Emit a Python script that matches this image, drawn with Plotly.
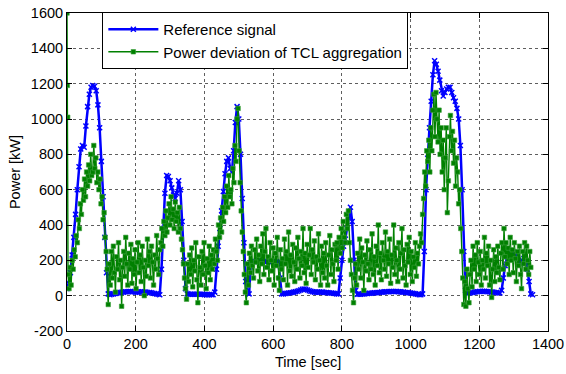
import numpy as np
import plotly.graph_objects as go

# Reference signal, sampled every 5 s from t = 0
ref_step = 5
ref_values = [
    40, 70, 130, 230, 330, 460, 600, 730, 830, 850, 840, 960, 1070, 1140, 1180, 1190, 1185, 1160, 1080, 950,
    760, 560, 330, 130, 10,
    5, 8, 10, 12, 14, 16, 18, 20, 20, 22, 22, 24, 24, 22, 22, 20, 20, 20, 22, 22, 20, 20, 18, 18, 16, 14, 12, 10, 8, 5,
    150, 380, 580, 680, 675, 650, 610, 570, 550, 580, 650, 600, 420, 200, 40, 10,
    8, 8, 8, 8, 8, 8, 8, 8, 8, 6, 6, 6, 6, 6, 5, 20,
    150, 280, 380, 480, 590, 690, 760, 780, 720, 700, 820, 980, 1070, 1000, 800, 550, 300, 80, 15,
    10, 180, 190, 192, 194, 195, 195, 195, 195, 195, 194, 193, 192, 192, 192, 192, 192, 190, 100,
    10, 10, 12, 14, 15, 16, 18, 20, 22, 25, 28, 32, 36, 38, 36, 32, 28, 25, 22, 20, 20, 20, 20, 20, 20, 18, 18,
    16, 15, 15, 14, 12, 10, 10,
    100, 200, 280, 320, 380, 450, 500, 420, 200, 30, 8,
    8, 8, 10, 10, 12, 12, 14, 14, 15, 16, 16, 18, 18, 20, 20, 22, 22, 22, 24, 24, 24, 24, 24, 22, 22, 20, 20,
    18, 18, 16, 15, 14, 12, 10, 8, 6, 5,
    10, 250, 600, 800, 950, 1100, 1250, 1330, 1310, 1270, 1220, 1160, 1130, 1150, 1170, 1180, 1180, 1150, 1120,
    1100, 1060, 1000, 850, 600, 250, 30, 15,
    15, 16, 18, 20, 22, 22, 24, 24, 25, 25, 24, 22, 22, 20, 20, 18, 18, 16, 15, 30,
    100, 170, 200, 230, 245, 250, 245, 230, 210, 190, 180, 200, 210, 190, 150, 80, 10, 5,
]

# Power deviation of TCL aggregation: initial transient, then every 3 s from t = 3
tcl_start_time = [0, 1, 2]
tcl_start_values = [1600, 1190, 1010]
tcl_step = 3
tcl_values = [
    120, 40, 160, 60, 200, 150, 260, 220, 340, 300,
    430, 380, 520, 460, 600, 540, 660, 560, 700, 620,
    740, 650, 800, 680, 700, 850, 720, 780, 640, 700,
    600, 660, 520, 560, 430, 470, 330, 250, 150, -50,
    180, 60, 250, 100, 280, 130, 20, 220, 150, 300,
    90, 200, -60, 160, 250, 110, 330, 180, 60, 240,
    150, 290, 70, 210, 120, 260, 40, 190, 300, 130,
    230, 80, 280, 160, 0, 200, 110, 320, 170, 250,
    100, 280, 190, 60, 230, 150, 340, 210, 120, 260,
    300, 380, 280, 420, 340, 480, 360, 440, 520, 400,
    560, 430, 490, 380, 530, 420, 470, 360, 500, 380,
    320, 260, 180, 100, 40, -20, 180, 80, 230, 120,
    270, 50, 200, 140, 300, 90, -40, 220, 160, 60,
    250, 120, 300, 170, 40, 210, 130, 280, 90, 230,
    150, 260, 180, 320, 250, 200, 400, 330, 440, 360,
    500, 420, 560, 470, 620, 500, 680, 560, 600, 520,
    720, 640, 850, 760, 1000, 1060, 820, 640, 480, 360,
    250, 120, 20, -40, 180, 60, 240, 130, 280, 170,
    100, 260, 190, 320, 140, 230, 80, 280, 180, 350,
    120, 250, 380, 160, 220, 90, 300, 200, 140, 270,
    60, 240, 170, 330, 100, 30, 260, 150, 210, 90,
    320, 180, 250, 60, 360, 140, 230, 110, 290, 190,
    80, 270, 150, 330, 210, 100, 250, 170, 380, 130,
    240, 70, 290, 160, 230, 380, 120, 260, 190, 310,
    90, 220, 150, 350, 200, 60, 280, 130, 240, 100,
    300, 170, 60, 230, 340, 120, 260, 180, 80, 290,
    200, 300, 150, 330, 240, 380, 270, 420, 330, 300,
    460, 380, 480, 300, 200, 120, 30, -40, 100, 180,
    60, 240, 150, 320, 100, 270, 190, 30, 230, 140,
    310, 180, 90, 260, 150, 350, 120, 220, 60, 280,
    170, 400, 130, 240, 90, 300, 200, 150, 360, 110,
    250, 180, 320, 70, 230, 160, 400, 120, 270, 200,
    80, 300, 150, 240, 380, 100, 260, 170, 60, 290,
    190, 330, 120, 250, 80, 220, 160, 300, 110, 240,
    180, 280, 350, 300, 460, 550, 700, 620, 820, 760,
    880, 700, 950, 820, 1050, 1140, 900, 1150, 1000, 870,
    1050, 800, 950, 700, 880, 600, 780, 950, 470, 650,
    900, 1020, 820, 930, 750, 880, 620, 780, 700, 520,
    600, 380, 250, 100, -50, 80, -60, 150, 40, -40,
    120, 200, 50, 280, 150, 230, 80, 300, 190, 120,
    250, 60, 200, 150, 330, 100, 240, 170, 280, 60,
    200, -10, 150, 260, 80, 220, 130, 280, 160, 90,
    240, 300, 150, 380, 220, 300, 180, 270, 120, 330,
    200, 260, 130, 300, 210, 80, 250, 170, 280, 120,
    40, 250, 180, 300, 150, 280, 200, 120, 250, 160,
]

x_ticks = [0, 200, 400, 600, 800, 1000, 1200, 1400]
y_ticks = [-200, 0, 200, 400, 600, 800, 1000, 1200, 1400, 1600]

ref_time = np.arange(len(ref_values)) * ref_step
tcl_time = list(tcl_start_time) + list(tcl_step + np.arange(len(tcl_values)) * tcl_step)
tcl_all = list(tcl_start_values) + list(tcl_values)

BLUE = "rgb(0,0,255)"
GREEN = "rgb(0,128,0)"

fig = go.Figure()
fig.add_trace(go.Scatter(
    x=ref_time, y=ref_values, mode="lines+markers", name="Reference signal",
    line=dict(color=BLUE, width=2.5),
    marker=dict(symbol="x-thin", size=5, line=dict(color=BLUE, width=1.5), color=BLUE),
))
fig.add_trace(go.Scatter(
    x=tcl_time, y=tcl_all, mode="lines+markers", name="Power deviation of TCL aggregation",
    line=dict(color=GREEN, width=1.4),
    marker=dict(symbol="square", size=4.5, color=GREEN, line=dict(color="rgb(60,160,60)", width=0.6)),
))

FONT = "Liberation Sans, Arial, sans-serif"
axis_common = dict(
    showline=True, linecolor="black", linewidth=1, mirror="ticks",
    ticks="inside", ticklen=5, tickcolor="black",
    showgrid=True, gridcolor="rgba(40,40,40,0.75)", griddash="dot", gridwidth=1,
    zeroline=False, automargin=False,
    tickfont=dict(family=FONT, size=14.5, color="black"),
)

fig.update_layout(
    width=566, height=374,
    margin=dict(l=67, r=18, t=13, b=43),
    paper_bgcolor="white", plot_bgcolor="white",
    font=dict(family=FONT, size=14.5, color="black"),
    xaxis=dict(range=[0, 1400], tickvals=x_ticks, ticktext=[str(v) for v in x_ticks], **axis_common),
    yaxis=dict(range=[-200, 1600], tickvals=y_ticks, ticktext=[str(v) for v in y_ticks], **axis_common),
    legend=dict(x=0.0735, y=1.003, xanchor="left", yanchor="top",
                bgcolor="white", bordercolor="black", borderwidth=1,
                font=dict(family=FONT, size=15), tracegroupgap=0, itemwidth=50),
    showlegend=True,
    annotations=[
        dict(text="Time [sec]", xref="paper", yref="paper", x=0.5, y=-0.097,
             xanchor="center", yanchor="middle", showarrow=False, font=dict(size=14.5)),
        dict(text="Power [kW]", xref="paper", yref="paper", x=-0.108, y=0.5,
             xanchor="center", yanchor="middle", showarrow=False, textangle=-90, font=dict(size=14.5)),
    ],
)

fig.write_html("out.html")
